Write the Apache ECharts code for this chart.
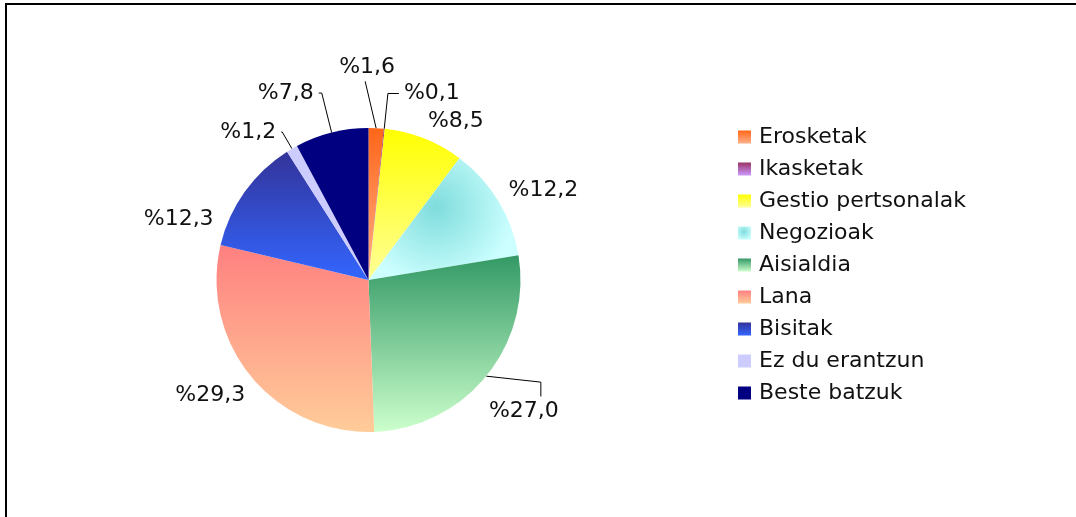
<!DOCTYPE html>
<html>
<head>
<meta charset="utf-8">
<script src="https://cdn.jsdelivr.net/npm/echarts@6/dist/echarts.min.js"></script>
<style>
  html, body { margin: 0; padding: 0; background: #fff; }
  #chart { width: 1076px; height: 517px; }
</style>
</head>
<body>
<div id="chart"></div>
<script>
var categories = ['Erosketak', 'Ikasketak', 'Gestio pertsonalak', 'Negozioak', 'Aisialdia', 'Lana', 'Bisitak', 'Ez du erantzun', 'Beste batzuk'];
var shares = [1.6, 0.1, 8.5, 12.2, 27.0, 29.3, 12.3, 1.2, 7.8];

// slice fills: [top colour, bottom colour]
var fills = [
    ['#FF6619', '#FFB08A'],
    ['#993366', '#CC99FF'],
    ['#FFFF00', '#FFFF99'],
    null,
    ['#339966', '#CCFFCC'],
    ['#FF8080', '#FFCC99'],
    ['#333399', '#3366FF'],
    ['#CCCCFF', '#CCCCFF'],
    ['#000080', '#000080']
];

// label placement tweaks (leader line lengths, nudges)
var lineLen = [61, 35.5, 19, 6, 10, 5, 5, 19.3, 40.7];
var lineLen2 = [0, 11, 0, 0, 0, 0, 0, 1, 3];
var showLine = [true, true, false, false, true, false, false, true, true];
var nudge = [[-45, 0], null, [-8, 0], [0, -8], [-10, 29], [3, 16], [-22, 30], null, null];
var bend = ['up', null, null, null, 'elbow', null, null, null, null];

function fillFor(i) {
    if (i === 3) {
        return new echarts.graphic.RadialGradient(0.45, 0.4, 0.65, [
            { offset: 0, color: '#7FDCDC' },
            { offset: 1, color: '#CCFFFF' }
        ]);
    }
    return new echarts.graphic.LinearGradient(0, 0, 0, 1, [
        { offset: 0, color: fills[i][0] },
        { offset: 1, color: fills[i][1] }
    ]);
}

var pieData = categories.map(function (name, i) {
    return {
        name: name,
        value: shares[i],
        itemStyle: { color: fillFor(i) },
        labelLine: { show: showLine[i], length: lineLen[i], length2: lineLen2[i] }
    };
});

var chart = echarts.init(document.getElementById('chart'));
chart.setOption({
    animation: false,
    graphic: [{
        type: 'rect',
        silent: true,
        shape: { x: 6, y: 4, width: 1200, height: 700 },
        style: { fill: 'none', stroke: '#000', lineWidth: 2 }
    }],
    legend: {
        orient: 'vertical',
        left: 738,
        top: 126,
        padding: 0,
        icon: 'rect',
        itemWidth: 13,
        itemHeight: 13,
        itemGap: 10,
        textStyle: {
            fontFamily: 'DejaVu Sans',
            fontSize: 22,
            color: '#111',
            padding: [0, 0, 0, 3]
        },
        data: categories
    },
    series: [{
        type: 'pie',
        center: [368.5, 280],
        radius: 152,
        startAngle: 90,
        clockwise: true,
        avoidLabelOverlap: false,
        itemStyle: { borderWidth: 0 },
        emphasis: { disabled: true },
        label: {
            show: true,
            position: 'outside',
            fontFamily: 'DejaVu Sans',
            fontSize: 22,
            color: '#111',
            distanceToLabelLine: 5,
            formatter: function (p) {
                return '%' + p.value.toFixed(1).replace('.', ',');
            }
        },
        labelLine: {
            smooth: false,
            lineStyle: { color: '#000', width: 1 }
        },
        labelLayout: function (p) {
            var n = nudge[p.dataIndex];
            if (!n) return {};
            var out = { dx: n[0], dy: n[1] };
            var r = p.labelRect;
            var pts = p.labelLinePoints;
            if (bend[p.dataIndex] && r && pts && pts.length) {
                var p0 = pts[0];
                var nx = r.x + n[0], ny = r.y + n[1];
                if (bend[p.dataIndex] === 'up') {
                    out.labelLinePoints = [[p0[0], p0[1]], [nx + r.width / 2 - 2, ny + r.height + 3], [nx + r.width / 2 - 2, ny + r.height + 3]];
                } else {
                    var cx = nx + r.width - 18;
                    out.labelLinePoints = [[p0[0], p0[1]], [cx, p0[1] + 6], [cx, ny - 4]];
                }
            }
            return out;
        },
        data: pieData
    }]
});
</script>
</body>
</html>
